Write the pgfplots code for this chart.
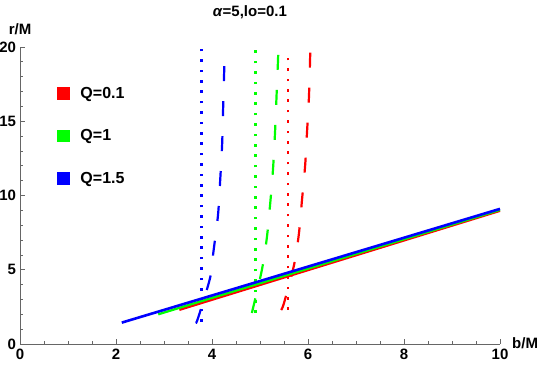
\documentclass[border=0pt]{standalone}
\usepackage{fontspec}
\setmainfont{Liberation Sans}
\usepackage{pgfplots}
\pgfplotsset{compat=1.18}
\definecolor{axgray}{HTML}{666666}
\definecolor{mred}{HTML}{FF0000}
\definecolor{mgreen}{HTML}{00FF00}
\definecolor{mblue}{HTML}{0000FF}
\newcommand{\tfont}{\fontsize{15bp}{17bp}\selectfont\bfseries}
\newcommand{\lfont}{\fontsize{16bp}{18bp}\selectfont\bfseries}
\begin{document}
\begin{tikzpicture}
\path[use as bounding box] (-20bp,-24bp) rectangle (520bp,344bp);
\begin{axis}[
  width=480bp, height=297bp, scale only axis,
  xmin=0, xmax=10, ymin=0, ymax=20,
  clip=false,
  axis x line=bottom, axis y line=left,
  axis line style={-, draw=axgray, line width=0.8bp},
  xtick={0,2,...,10}, minor x tick num=3,
  ytick={0,5,...,20}, minor y tick num=4,
  tick align=inside, major tick length=5bp, minor tick length=3.5bp,
  every tick/.style={axgray, line width=0.8bp},
  ticklabel style={font=\tfont, text=black},
  /pgf/number format/assume math mode=true,
  xticklabel style={yshift=-2bp},
  yticklabel style={xshift=-0.5bp},
  xlabel={b/M}, ylabel={r/M},
  every axis x label/.style={at={(axis description cs:1,0)}, anchor=west, inner sep=0pt, xshift=12bp, yshift=1bp, font=\tfont},
  every axis y label/.style={at={(axis description cs:0,1)}, anchor=center, yshift=18bp, font=\tfont},
  title={\textit{α}=5,lo=0.1},
  every axis title/.style={at={(axis description cs:0.479,1)}, anchor=center, yshift=35bp, font=\tfont},
  legend image code/.code={\fill[#1, draw=none] (0bp,-6.3bp) rectangle (12.6bp,6.3bp);},
  legend style={draw=none, fill=none, inner sep=0pt, at={(axis description cs:0.077,0.866)}, anchor=north west,
    font=\lfont, row sep=30bp, column sep=10.7bp, nodes={inner sep=0pt}},
  legend cell align=left,
]
\addlegendimage{mred, fill=mred}
\addlegendentry{Q=0.1}
\addlegendimage{mgreen, fill=mgreen}
\addlegendentry{Q=1}
\addlegendimage{mblue, fill=mblue}
\addlegendentry{Q=1.5}

% dotted verticals
\addplot[forget plot, mblue, line width=2.6bp, dash pattern=on 2.6bp off 7.8bp] coordinates {(3.78,1.5) (3.78,20)};
\addplot[forget plot, mgreen, line width=2.6bp, dash pattern=on 2.6bp off 7.8bp] coordinates {(4.91,2.09) (4.91,20)};
\addplot[forget plot, mred, line width=2.6bp, dash pattern=on 2.6bp off 7.8bp] coordinates {(5.58,2.29) (5.58,19.7)};

% dashed curves
\addplot[forget plot, mblue, line width=2.2bp, dash pattern=on 15bp off 20bp, smooth] coordinates {
  (3.66,1.42) (3.71,1.75) (3.96,4.45) (4.03,6.22) (4.125,8.68) (4.17,11.0) (4.21,13.36) (4.23,15.66) (4.25,17.97) (4.27,19.96)};
\addplot[forget plot, mgreen, line width=2.2bp, dash pattern=on 15bp off 20bp, smooth] coordinates {
  (4.83,2.09) (5.035,4.92) (5.14,7.08) (5.21,9.37) (5.27,11.73) (5.31,14.04) (5.34,16.34) (5.37,18.7) (5.385,20.0)};
\addplot[forget plot, mred, line width=2.2bp, dash pattern=on 15bp off 20bp, smooth] coordinates {
  (5.44,2.29) (5.5,2.76) (5.71,5.33) (5.81,7.42) (5.875,9.71) (5.94,12.0) (5.98,14.3) (6.02,16.66) (6.05,20.0)};

% straight lines
\addplot[forget plot, mred, line width=2.3bp] coordinates {(3.32,2.30) (10,8.97)};
\addplot[forget plot, mgreen, line width=2.3bp] coordinates {(2.88,2.00) (10,9.03)};
\addplot[forget plot, mblue, line width=2.6bp] coordinates {(2.12,1.44) (10,9.10)};
\end{axis}
\end{tikzpicture}
\end{document}
